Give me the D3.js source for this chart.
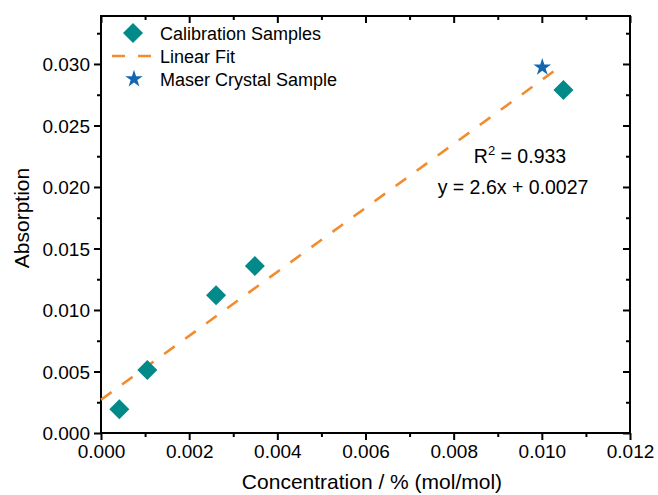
<!DOCTYPE html>
<html>
<head>
<meta charset="utf-8">
<script src="https://cdn.jsdelivr.net/npm/d3@7"></script>
<style>
  html, body { margin: 0; padding: 0; background: #fff; }
  svg { display: block; font-family: "Liberation Sans", Arial, sans-serif; }
</style>
</head>
<body>
<svg id="chart" width="658" height="495"></svg>
<script>
// Calibration samples: concentration (% mol/mol) vs absorption
const calibConc = [0.000415, 0.00105, 0.00261, 0.00349, 0.01049];
const calibAbs  = [0.00193, 0.00512, 0.01120, 0.01358, 0.02789];

// Maser crystal sample
const maserConc = [0.01001];
const maserAbs  = [0.02973];

// Linear fit y = slope * x + intercept
const fitSlope = 2.6;
const fitIntercept = 0.0027;
const fitRange = [0, 0.01035];
const fitR2 = "0.933";

// Axis ticks
const xTicks = [0, 0.002, 0.004, 0.006, 0.008, 0.010, 0.012];
const xMinor = [0.001, 0.003, 0.005, 0.007, 0.009, 0.011];
const yTicks = [0, 0.005, 0.010, 0.015, 0.020, 0.025, 0.030];
const yMinor = [0.0025, 0.0075, 0.0125, 0.0175, 0.0225, 0.0275, 0.0325];

const legendItems = ["Calibration Samples", "Linear Fit", "Maser Crystal Sample"];

const colTeal = "#02898A";
const colOrange = "#F28C2E";
const colBlue = "#1366B0";

const svg = d3.select("#chart");
const L = 101, R = 630, T = 16, B = 433;

const x = d3.scaleLinear().domain([0, 0.012]).range([L, R]);
const y = d3.scaleLinear().domain([0, 0.0339]).range([B, T]);

const fmt = d3.format(".3f");

// Bottom axis (outward ticks)
const gx = svg.append("g").attr("transform", `translate(0,${B})`);
gx.call(d3.axisBottom(x).tickValues(xTicks).tickFormat(fmt).tickSize(7).tickSizeOuter(0));
gx.append("g").call(d3.axisBottom(x).tickValues(xMinor).tickFormat("").tickSize(4).tickSizeOuter(0));

// Left axis (outward ticks)
const gy = svg.append("g").attr("transform", `translate(${L},0)`);
gy.call(d3.axisLeft(y).tickValues(yTicks).tickFormat(fmt).tickSize(7).tickSizeOuter(0));
gy.append("g").call(d3.axisLeft(y).tickValues(yMinor.filter(v => v < 0.0339)).tickFormat("").tickSize(4).tickSizeOuter(0));

// Mirror axes on top and right (inward ticks, no labels)
const gt = svg.append("g").attr("transform", `translate(0,${T})`);
gt.call(d3.axisTop(x).tickValues(xTicks).tickFormat("").tickSize(-7).tickSizeOuter(0));
gt.append("g").call(d3.axisTop(x).tickValues(xMinor).tickFormat("").tickSize(-4).tickSizeOuter(0));
const gr = svg.append("g").attr("transform", `translate(${R},0)`);
gr.call(d3.axisRight(y).tickValues(yTicks).tickFormat("").tickSize(-7).tickSizeOuter(0));
gr.append("g").call(d3.axisRight(y).tickValues(yMinor.filter(v => v < 0.0339)).tickFormat("").tickSize(-4).tickSizeOuter(0));

svg.selectAll(".domain").remove();
svg.selectAll(".tick line").attr("stroke", "#000").attr("stroke-width", 2);
svg.selectAll(".tick text").attr("fill", "#000").style("font-size", "19px");
gx.selectAll(".tick text").attr("y", 12).attr("dy", "0.71em");
gy.selectAll(".tick text").attr("x", -11).attr("dy", "0.36em");

// Frame
svg.append("rect")
  .attr("x", L).attr("y", T).attr("width", R - L).attr("height", B - T)
  .attr("fill", "none").attr("stroke", "#000").attr("stroke-width", 2);

// Axis titles
svg.append("text")
  .attr("x", 372).attr("y", 489)
  .attr("text-anchor", "middle")
  .style("font-size", "21px")
  .text("Concentration / % (mol/mol)");
svg.append("text")
  .attr("transform", "translate(29,218) rotate(-90)")
  .attr("text-anchor", "middle")
  .style("font-size", "21px")
  .text("Absorption");

// Fit line
const fitLine = d3.line().x(d => x(d)).y(d => y(fitSlope * d + fitIntercept));
svg.append("path")
  .datum(fitRange)
  .attr("d", fitLine)
  .attr("fill", "none")
  .attr("stroke", colOrange)
  .attr("stroke-width", 2.6)
  .attr("stroke-dasharray", "13,13");

// Calibration points (diamonds)
const diamond = d3.symbol().type(d3.symbolSquare).size(200);
svg.append("g").selectAll("path")
  .data(calibConc.map((c, i) => [c, calibAbs[i]]))
  .join("path")
  .attr("d", diamond)
  .attr("transform", d => `translate(${x(d[0])},${y(d[1])}) rotate(45)`)
  .attr("fill", colTeal);

// Maser sample (star)
const star = d3.symbol().type(d3.symbolStar).size(95);
svg.append("g").selectAll("path")
  .data(maserConc.map((c, i) => [c, maserAbs[i]]))
  .join("path")
  .attr("d", star)
  .attr("transform", d => `translate(${x(d[0])},${y(d[1])})`)
  .attr("fill", colBlue);

// Fit annotation
const ann = svg.append("g").style("font-size", "19.5px").attr("text-anchor", "middle");
const r2 = ann.append("text").attr("x", 520).attr("y", 163);
r2.append("tspan").text("R");
r2.append("tspan").attr("dy", -8).style("font-size", "13px").text("2");
r2.append("tspan").attr("dy", 8).text(" = " + fitR2);
ann.append("text").attr("x", 513).attr("y", 194)
  .text(`y = ${fitSlope}x + ${fitIntercept}`);

// Legend
const lg = svg.append("g");
const rowY = [33, 56, 79];
lg.append("path").attr("d", diamond)
  .attr("transform", `translate(133,${rowY[0]}) rotate(45)`).attr("fill", colTeal);
lg.append("line")
  .attr("x1", 112).attr("x2", 154).attr("y1", rowY[1]).attr("y2", rowY[1])
  .attr("stroke", colOrange).attr("stroke-width", 2.6).attr("stroke-dasharray", "13,13");
lg.append("path").attr("d", star)
  .attr("transform", `translate(134,${rowY[2]})`).attr("fill", colBlue);
lg.selectAll("text").data(legendItems).join("text")
  .attr("x", 160).attr("y", (d, i) => rowY[i] + 6.5)
  .style("font-size", "18px")
  .text(d => d);
</script>
</body>
</html>
